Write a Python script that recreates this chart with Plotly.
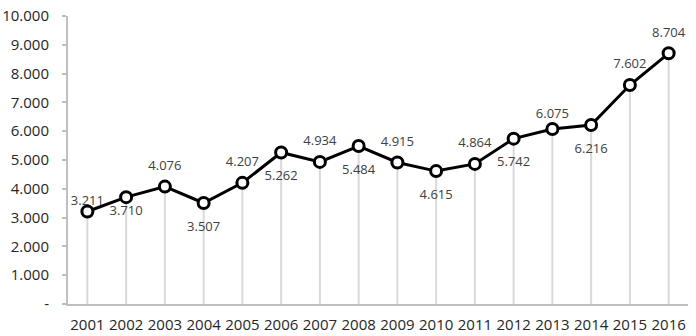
import plotly.graph_objects as go

years = ["2001", "2002", "2003", "2004", "2005", "2006", "2007", "2008",
         "2009", "2010", "2011", "2012", "2013", "2014", "2015", "2016"]
values = [3211, 3710, 4076, 3507, 4207, 5262, 4934, 5484,
          4915, 4615, 4864, 5742, 6075, 6216, 7602, 8704]
label_pos = ["top center", "bottom center", "top center", "bottom center",
             "top center", "bottom center", "top center", "bottom center",
             "top center", "bottom center", "top center", "bottom center",
             "top center", "bottom center", "top center", "top center"]
# invisible spacer sizes controlling how far each label sits from its point
label_gap = [3, 11, 20, 27, 20, 27, 20, 27, 20, 27, 20, 27, 11, 27, 20, 20]
y_tickvals = [0, 1000, 2000, 3000, 4000, 5000, 6000, 7000, 8000, 9000, 10000]
y_ticktext = ["-", "1.000", "2.000", "3.000", "4.000", "5.000",
              "6.000", "7.000", "8.000", "9.000", "10.000"]

FONT = "Open Sans, Liberation Sans, Arial, sans-serif"

fig = go.Figure()

# vertical drop lines from each point down to the axis
fig.add_trace(go.Scatter(
    x=years, y=values, mode="markers",
    marker=dict(size=1, color="rgba(0,0,0,0)"),
    error_y=dict(type="data", symmetric=False, array=[0] * len(values),
                 arrayminus=values, width=0, thickness=2, color="#d9d9d9"),
    hoverinfo="skip", showlegend=False,
))

fig.add_trace(go.Scatter(
    x=years, y=values, mode="lines+markers",
    line=dict(color="black", width=3),
    marker=dict(size=11, color="white", line=dict(color="black", width=3)),
    cliponaxis=False, showlegend=False,
))

# data labels
fig.add_trace(go.Scatter(
    x=years, y=values, mode="markers+text",
    marker=dict(size=label_gap, color="rgba(0,0,0,0)", line=dict(width=0)),
    text=values, texttemplate="%{y:,.0f}", textposition=label_pos,
    textfont=dict(family=FONT, size=13, color="#404040"),
    cliponaxis=False, showlegend=False, hoverinfo="skip",
))

fig.update_layout(
    width=696, height=336,
    margin=dict(l=68, r=8, t=16, b=32, autoexpand=False),
    paper_bgcolor="white", plot_bgcolor="white",
    separators=",.",
    font=dict(family=FONT, size=15, color="#262626"),
)
fig.update_xaxes(
    type="category", range=[-0.5, 15.5], automargin=False,
    showgrid=False, showline=True, linecolor="#bfbfbf", linewidth=2,
    ticks="", tickfont=dict(family=FONT, size=15, color="#262626"),
    ticklabelstandoff=6,
)
fig.update_yaxes(
    range=[0, 10000], tickvals=y_tickvals, ticktext=y_ticktext, automargin=False,
    showgrid=False, zeroline=False, showline=True, linecolor="#bfbfbf", linewidth=2,
    ticks="outside", ticklen=4, tickcolor="#bfbfbf", tickwidth=2,
    tickfont=dict(family=FONT, size=15, color="#262626"),
    ticklabelstandoff=10,
)

fig.write_html("out.html", config={"displayModeBar": False},
               post_script="document.body.style.margin='0';")
